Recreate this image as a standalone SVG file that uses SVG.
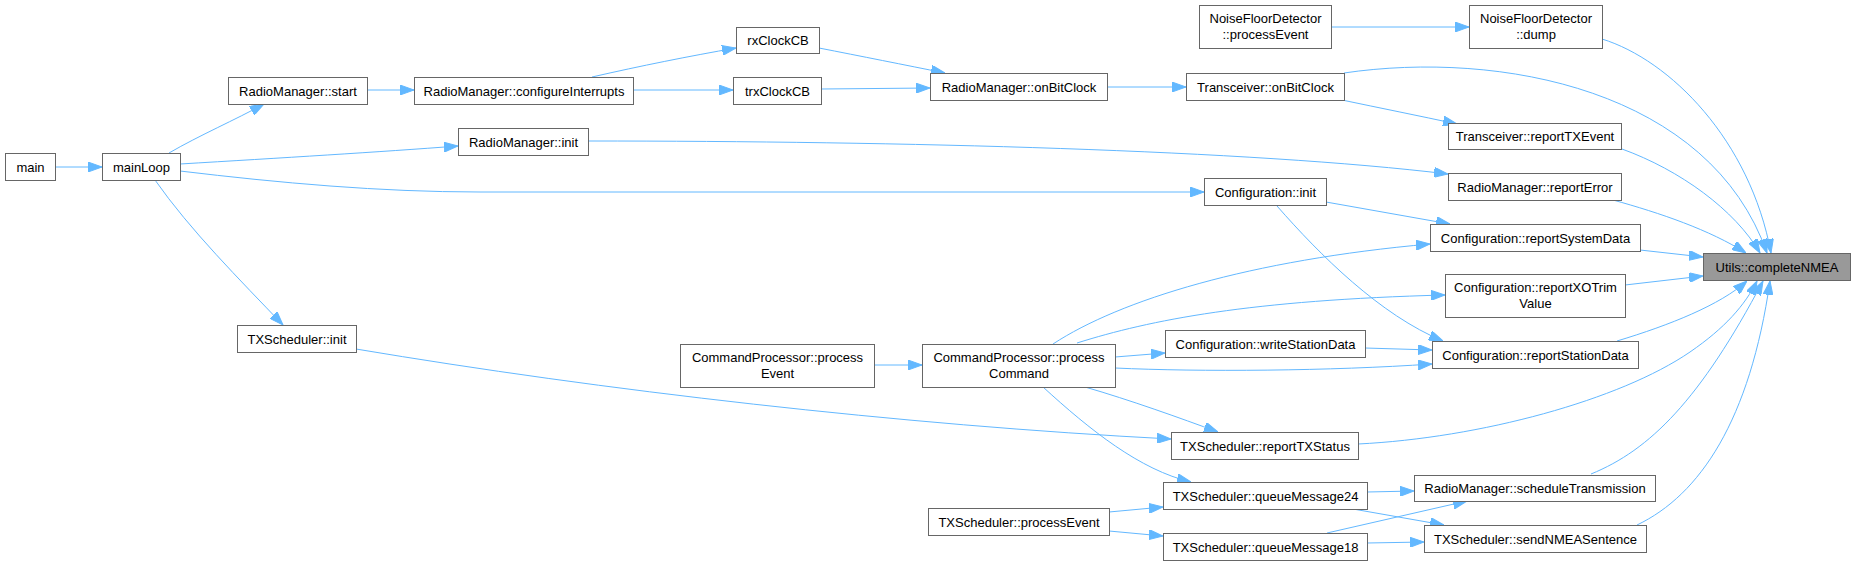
<svg xmlns="http://www.w3.org/2000/svg" width="1856" height="565" viewBox="0 0 1856 565">
<style>
.n rect{fill:#ffffff;stroke:#666666;stroke-width:1}
.n.hl rect{fill:#999999}
.n text{font-family:"Liberation Sans",Arial,sans-serif;font-size:13px;fill:#000000;text-anchor:middle}
.e path{fill:none;stroke:#63b8ff;stroke-width:1;marker-end:url(#ah)}
</style>
<defs>
<marker id="ah" markerUnits="userSpaceOnUse" markerWidth="14" markerHeight="10" refX="14" refY="5" orient="auto" viewBox="0 0 14 10">
<path d="M0,0 L14,5 L0,10 z" fill="#63b8ff" stroke="#63b8ff" stroke-width="1"/>
</marker>
</defs>
<rect width="1856" height="565" fill="#ffffff"/>
<g id="edges" class="e">
<path d="M55,167 L102,167"/>
<path d="M169,153 C200,135 235,120 264,104"/>
<path d="M180,164 C280,158 380,152 458,146"/>
<path d="M180,171 C280,183 380,192 480,192 L1204,192"/>
<path d="M155,180 C190,230 240,280 283,325"/>
<path d="M367,90 L414,90"/>
<path d="M592,77 C640,66 690,56 736,48"/>
<path d="M633,90 L733,90"/>
<path d="M819,48 C860,56 905,65 945,73"/>
<path d="M821,89 L930,88"/>
<path d="M1107,87 L1186,87"/>
<path d="M1331,27 L1469,27"/>
<path d="M1342,100 C1380,108 1420,116 1457,124"/>
<path d="M588,141 C900,141 1250,150 1448,174"/>
<path d="M1344,73 C1500,50 1710,90 1767,253"/>
<path d="M1602,39 C1670,60 1750,140 1771,253"/>
<path d="M1622,149 C1680,170 1735,210 1760,253"/>
<path d="M1613,200 C1660,213 1710,230 1746,253"/>
<path d="M1640,250 L1703,257"/>
<path d="M1625,285 L1703,276"/>
<path d="M1326,202 L1450,224"/>
<path d="M1277,206 C1320,255 1380,315 1443,341"/>
<path d="M1053,344 C1120,300 1250,260 1430,244"/>
<path d="M1077,343 C1150,320 1250,300 1445,295"/>
<path d="M1115,357 L1165,353"/>
<path d="M1115,368 C1200,372 1330,371 1432,364"/>
<path d="M1365,348 L1432,350"/>
<path d="M1085,387 C1130,400 1180,418 1218,432"/>
<path d="M356,349 C600,390 900,425 1171,439"/>
<path d="M1043,387 C1090,430 1140,470 1191,482"/>
<path d="M874,365 L922,365"/>
<path d="M1109,512 L1163,507"/>
<path d="M1109,531 L1163,536"/>
<path d="M1367,492 L1414,491"/>
<path d="M1353,509 L1444,525"/>
<path d="M1327,533 L1467,501"/>
<path d="M1367,543 L1424,542"/>
<path d="M1617,341 C1670,325 1720,305 1747,281"/>
<path d="M1358,444 C1480,438 1620,400 1690,352 C1725,328 1745,305 1757,281"/>
<path d="M1591,474 C1650,450 1700,400 1763,281"/>
<path d="M1637,525 C1700,495 1750,420 1770,281"/>
</g>
<g id="n_main" class="n"><rect x="5.5" y="153.5" width="50" height="27"/><text x="30.5" y="171.5">main</text></g>
<g id="n_mainLoop" class="n"><rect x="102.5" y="153.5" width="78" height="27"/><text x="141.5" y="171.5">mainLoop</text></g>
<g id="n_rm_start" class="n"><rect x="228.5" y="77.5" width="139" height="27"/><text x="298" y="95.5">RadioManager::start</text></g>
<g id="n_rm_configureInterrupts" class="n"><rect x="414.5" y="77.5" width="219" height="27"/><text x="524" y="95.5">RadioManager::configureInterrupts</text></g>
<g id="n_rm_init" class="n"><rect x="458.5" y="128.5" width="130" height="27"/><text x="523.5" y="146.5">RadioManager::init</text></g>
<g id="n_rxClockCB" class="n"><rect x="736.5" y="27.5" width="83" height="26"/><text x="778" y="45">rxClockCB</text></g>
<g id="n_trxClockCB" class="n"><rect x="733.5" y="77.5" width="88" height="27"/><text x="777.5" y="95.5">trxClockCB</text></g>
<g id="n_rm_onBitClock" class="n"><rect x="930.5" y="73.5" width="177" height="27"/><text x="1019" y="91.5">RadioManager::onBitClock</text></g>
<g id="n_tr_onBitClock" class="n"><rect x="1186.5" y="73.5" width="158" height="27"/><text x="1265.5" y="91.5">Transceiver::onBitClock</text></g>
<g id="n_nfd_processEvent" class="n"><rect x="1199.5" y="5.5" width="132" height="43"/><text x="1265.5" y="23">NoiseFloorDetector</text><text x="1265.5" y="38.5">::processEvent</text></g>
<g id="n_cfg_init" class="n"><rect x="1204.5" y="178.5" width="122" height="27"/><text x="1265.5" y="196.5">Configuration::init</text></g>
<g id="n_nfd_dump" class="n"><rect x="1469.5" y="5.5" width="133" height="43"/><text x="1536" y="23">NoiseFloorDetector</text><text x="1536" y="38.5">::dump</text></g>
<g id="n_tr_reportTXEvent" class="n"><rect x="1448.5" y="123.5" width="173" height="26"/><text x="1535" y="141">Transceiver::reportTXEvent</text></g>
<g id="n_rm_reportError" class="n"><rect x="1448.5" y="173.5" width="173" height="27"/><text x="1535" y="191.5">RadioManager::reportError</text></g>
<g id="n_cfg_reportSystemData" class="n"><rect x="1430.5" y="224.5" width="210" height="27"/><text x="1535.5" y="242.5">Configuration::reportSystemData</text></g>
<g id="n_utils_completeNMEA" class="n hl"><rect x="1703.5" y="253.5" width="147" height="27"/><text x="1777" y="271.5">Utils::completeNMEA</text></g>
<g id="n_cfg_reportXOTrimValue" class="n"><rect x="1445.5" y="274.5" width="180" height="43"/><text x="1535.5" y="292">Configuration::reportXOTrim</text><text x="1535.5" y="307.5">Value</text></g>
<g id="n_cfg_writeStationData" class="n"><rect x="1165.5" y="330.5" width="200" height="27"/><text x="1265.5" y="348.5">Configuration::writeStationData</text></g>
<g id="n_cfg_reportStationData" class="n"><rect x="1432.5" y="341.5" width="206" height="27"/><text x="1535.5" y="359.5">Configuration::reportStationData</text></g>
<g id="n_cp_processEvent" class="n"><rect x="680.5" y="344.5" width="194" height="43"/><text x="777.5" y="362">CommandProcessor::process</text><text x="777.5" y="377.5">Event</text></g>
<g id="n_cp_processCommand" class="n"><rect x="922.5" y="344.5" width="193" height="43"/><text x="1019" y="362">CommandProcessor::process</text><text x="1019" y="377.5">Command</text></g>
<g id="n_txs_init" class="n"><rect x="237.5" y="325.5" width="119" height="27"/><text x="297" y="343.5">TXScheduler::init</text></g>
<g id="n_txs_reportTXStatus" class="n"><rect x="1171.5" y="432.5" width="187" height="27"/><text x="1265" y="450.5">TXScheduler::reportTXStatus</text></g>
<g id="n_txs_queueMessage24" class="n"><rect x="1163.5" y="482.5" width="204" height="27"/><text x="1265.5" y="500.5">TXScheduler::queueMessage24</text></g>
<g id="n_txs_processEvent" class="n"><rect x="928.5" y="508.5" width="181" height="27"/><text x="1019" y="526.5">TXScheduler::processEvent</text></g>
<g id="n_txs_queueMessage18" class="n"><rect x="1163.5" y="533.5" width="204" height="27"/><text x="1265.5" y="551.5">TXScheduler::queueMessage18</text></g>
<g id="n_rm_scheduleTransmission" class="n"><rect x="1414.5" y="475.5" width="241" height="26"/><text x="1535" y="493">RadioManager::scheduleTransmission</text></g>
<g id="n_txs_sendNMEASentence" class="n"><rect x="1424.5" y="525.5" width="222" height="27"/><text x="1535.5" y="543.5">TXScheduler::sendNMEASentence</text></g>
</svg>
